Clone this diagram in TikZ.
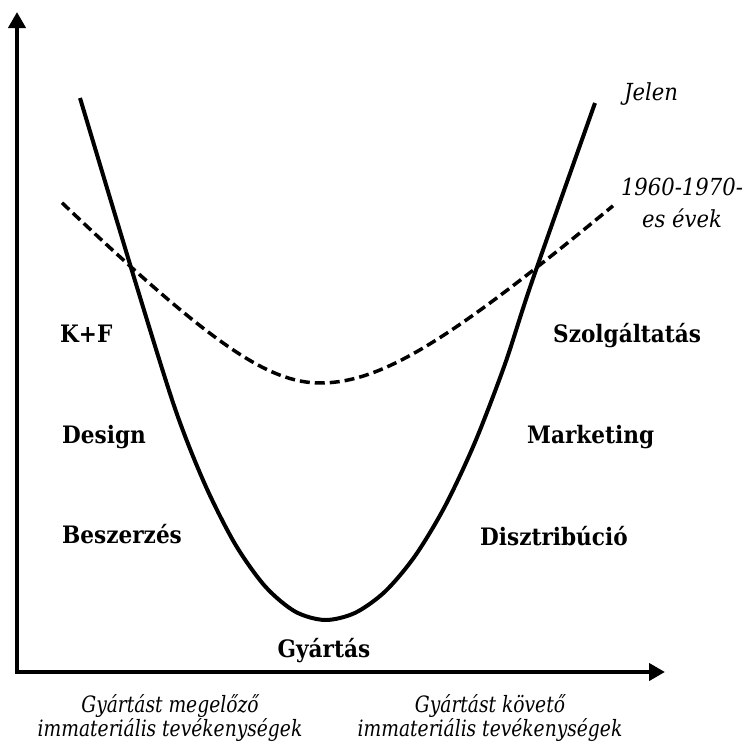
\documentclass[tikz,border=0pt]{standalone}
\usepackage{fontspec}
\usetikzlibrary{arrows.meta}
\newfontfamily\lblfont{DejaVu Serif}[FakeStretch=0.9]
\newfontfamily\botfont{DejaVu Serif}[FakeStretch=0.83]
\tikzset{
  declare function={sc(\t)=1-0.1304*(\t>=0);},
  axis/.style={line width=4.5pt, line join=miter, {Triangle[length=16pt,width=17pt]}-{Triangle[length=16pt,width=17pt]}},
  nowcurve/.style={line width=4pt, line join=round},
  oldcurve/.style={line width=3.5pt, dash pattern=on 10pt off 5pt},
  boldlbl/.style={font=\lblfont\fontsize{24}{28}\selectfont\bfseries, inner sep=0pt, anchor=base west},
  toplbl/.style={font=\lblfont\fontsize{23.5}{32}\selectfont\itshape, inner sep=0pt, align=center},
  botlbl/.style={font=\botfont\fontsize{22.5}{24}\selectfont\itshape, inner sep=0pt, align=center}
}
\begin{document}
\begin{tikzpicture}[x=1pt,y=-1pt]
\useasboundingbox (0,0) rectangle (748,745);
\coordinate (ytop) at (17,12);
\coordinate (origin) at (17,672);
\coordinate (xend) at (665,672);
\draw[axis] (ytop) -- (origin) -- (xend);
% present-day curve
\draw[nowcurve] plot[smooth, tension=0.5] coordinates {(80,98) (135,280.7) (175,408.5) (205,484.6) (235,543.9) (265,586.2) (295,611.5) (325,620) (355,612.9) (385,591.6) (415,556) (445,506.2) (475,442.2) (505,364) (532,281.5) (595,103)};
% 1960-1970 curve
\draw[oldcurve] plot[domain=-258:293, samples=100] ({320+\x},{383-1.02*(100*sqrt(1+(\x*sc(\x)/100)^2)-100)});
% labels
\node[boldlbl] (kf) at (60,342) {K+F};
\node[boldlbl] (design) at (62,443) {Design};
\node[boldlbl] (beszerzes) at (62,543) {Beszerzés};
\node[boldlbl, anchor=base] (gyartas) at (324,657) {Gyártás};
\node[boldlbl] (szolg) at (553,342) {Szolgáltatás};
\node[boldlbl] (marketing) at (527,443) {Marketing};
\node[boldlbl] (disztr) at (480,545) {Disztribúció};
\node[toplbl, anchor=base] (jelen) at (651,100) {Jelen};
\node[toplbl] (evek) at (682,203) {1960-1970-\\es évek};
\node[botlbl] (elotte) at (170,718) {Gyártást megelőző\\immateriális tevékenységek};
\node[botlbl] (utana) at (490,718) {Gyártást követő\\immateriális tevékenységek};
\end{tikzpicture}
\end{document}
